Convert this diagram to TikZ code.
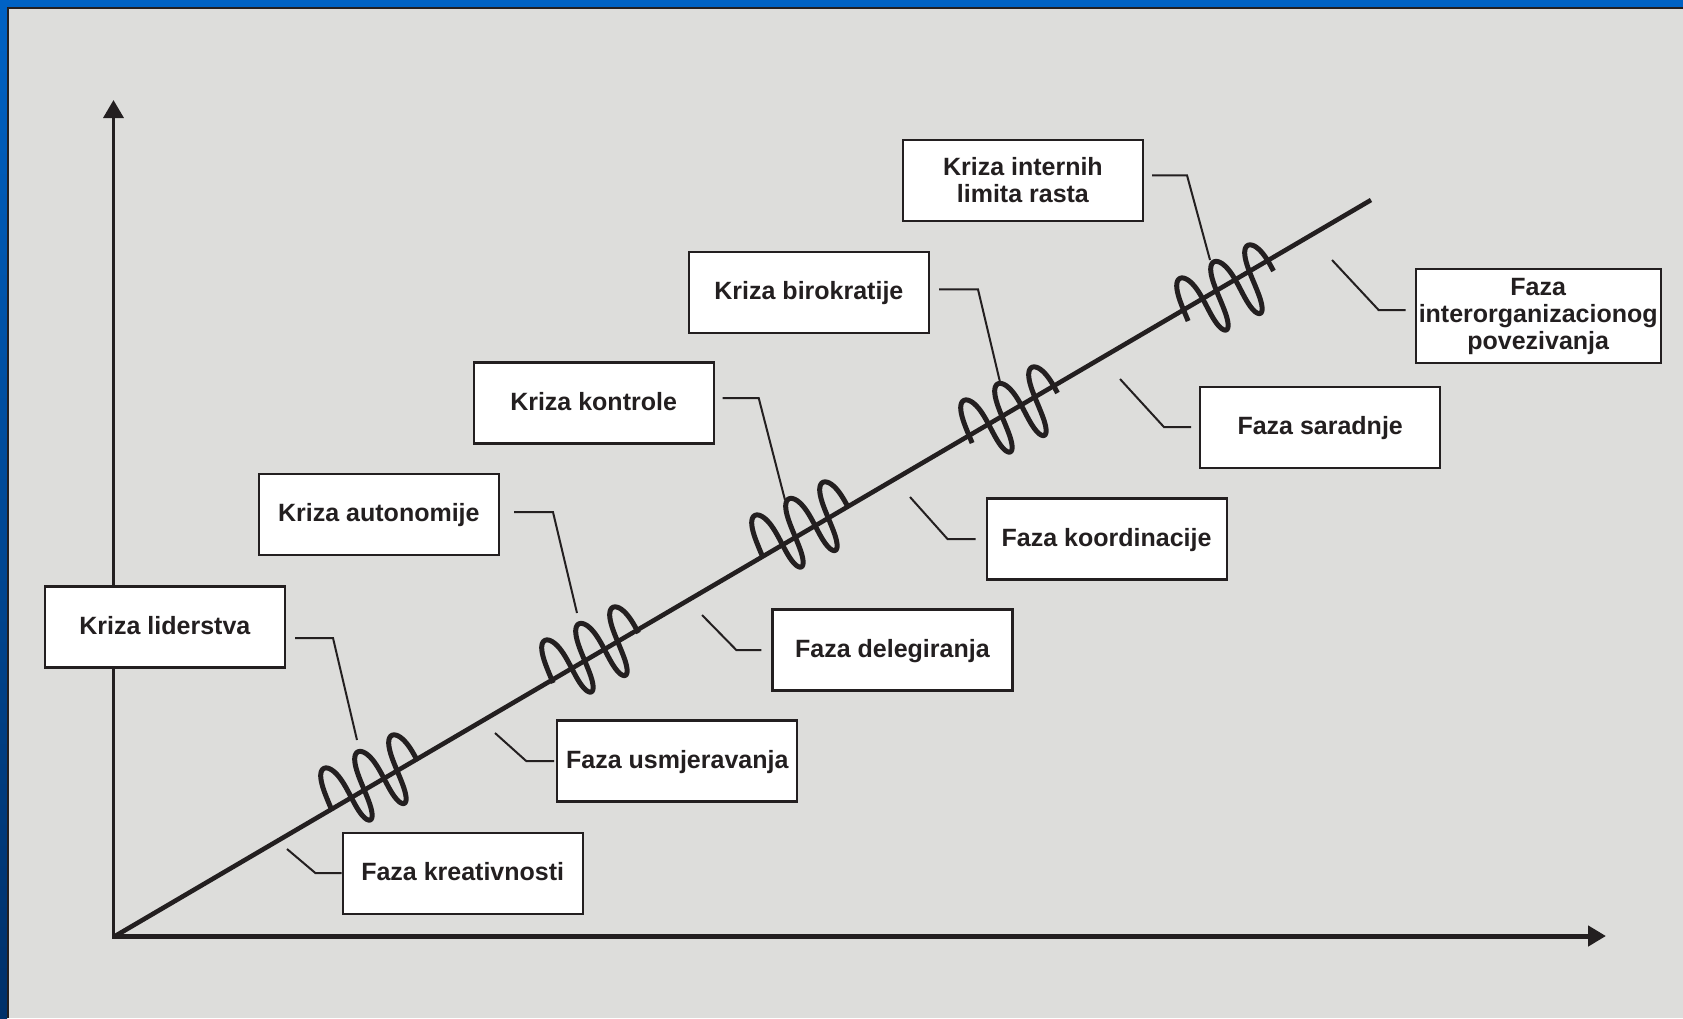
\documentclass[tikz,border=0pt]{standalone}
\usepackage{fontspec}
\setmainfont{Liberation Sans}
\usetikzlibrary{arrows.meta}
\definecolor{ink}{RGB}{35,31,32}
\definecolor{panel}{RGB}{221,221,219}
\definecolor{blueA}{RGB}{0,98,196}
\definecolor{blueB}{RGB}{0,48,105}
\newcommand\coilat[2]{\draw[coil] plot[domain=1.3:17.28,samples=220,smooth] ({#1+5.41*\x+14*cos(\x r)-2*sin(\x r)+2.5*sin(2*\x r)},{#2-1.6-2.63*\x+30.1*cos(\x r)});}
\begin{document}
\begin{tikzpicture}[x=1pt,y=-1pt,
  box/.style={draw=ink,line width=2.2pt,fill=white,align=center,inner sep=0pt,
    minimum width=240pt,minimum height=81pt,text=ink,
    font=\fontsize{25pt}{27pt}\selectfont\bfseries},
  one/.style={text height=16pt,text depth=2pt},
  leader/.style={draw=ink,line width=2pt},
  coil/.style={draw=ink,line width=5pt},
  axis/.style={draw=ink,-{Triangle[length=18pt,width=20pt]}}]
\useasboundingbox (0,0) rectangle (1683,1018);
% background frame
\fill[panel] (0,0) rectangle (1683,1018);
\fill[blueA] (0,0) rectangle (1683,6.5);
\shade[top color=blueA,bottom color=blueB] (0,0) rectangle (7,1018);
\draw[ink,line width=2pt] (8,1018) -- (8,7.5) -- (1683,7.5);
% axes
\coordinate (O) at (113.5,937);
\coordinate (ytip) at (113.5,100);
\coordinate (xtip) at (1606,936);
\coordinate (dend) at (1371,200);
\draw[axis,line width=3.5pt] (O) -- (ytip);
\draw[axis,line width=5pt] (112,936) -- (xtip);
\draw[ink,line width=4.6pt] (O) -- (dend);
% coils
\coilat{322}{808}
\coilat{543}{680}
\coilat{753}{555}
\coilat{962}{440}
\coilat{1178}{318}
% leader end points
\coordinate (k1e) at (357,740);
\coordinate (k2e) at (577,613);
\coordinate (k3e) at (785,500);
\coordinate (k4e) at (1000,382);
\coordinate (k5e) at (1210,260);
\coordinate (f1) at (287,849);
\coordinate (f2) at (495,733);
\coordinate (f3) at (702,615);
\coordinate (f4) at (910,497);
\coordinate (f5) at (1120,379);
\coordinate (f6) at (1332,260);
% boxes
\node[box,one] (kl) at (164.9,627) {Kriza liderstva};
\node[box,one] (ka) at (378.9,514.1) {Kriza autonomije};
\node[box,one] (kk) at (593.6,403) {Kriza kontrole};
\node[box,one] (kb) at (808.9,292.4) {Kriza birokratije};
\node[box] (ki) at (1022.9,180.3) {Kriza internih\\limita rasta};
\node[box,one] (fk) at (462.7,873.2) {Faza kreativnosti};
\node[box,one] (fu) at (677.3,761) {Faza usmjeravanja};
\node[box,one] (fd) at (892.4,650) {Faza delegiranja};
\node[box,one] (fko) at (1106.6,539) {Faza koordinacije};
\node[box,one] (fs) at (1320.2,427.2) {Faza saradnje};
\node[box,minimum width=245pt,minimum height=94pt] (fi) at (1538.2,316) {Faza\\interorganizacionog\\povezivanja};
% crisis leaders
\draw[leader] ([xshift=9pt,yshift=-11pt]kl.east) -- ++(38,0) -- (k1e);
\draw[leader] ([xshift=14pt,yshift=2pt]ka.east) -- ++(39,0) -- (k2e);
\draw[leader] ([xshift=8pt,yshift=5pt]kk.east) -- ++(36,0) -- (k3e);
\draw[leader] ([xshift=9pt,yshift=3pt]kb.east) -- ++(39,0) -- (k4e);
\draw[leader] ([xshift=8pt,yshift=5pt]ki.east) -- ++(35,0) -- (k5e);
% phase leaders
\draw[leader] (f1) -- ([xshift=-26pt]fk.west) -- (fk.west);
\draw[leader] (f2) -- ([xshift=-30pt]fu.west) -- ([xshift=-2pt]fu.west);
\draw[leader] (f3) -- ([xshift=-35pt]fd.west) -- ([xshift=-10pt]fd.west);
\draw[leader] (f4) -- ([xshift=-38pt]fko.west) -- ([xshift=-10pt]fko.west);
\draw[leader] (f5) -- ([xshift=-35pt]fs.west) -- ([xshift=-8pt]fs.west);
\draw[leader] (f6) -- ([xshift=-36pt,yshift=6pt]fi.west) -- ([xshift=-9pt,yshift=6pt]fi.west);
\end{tikzpicture}
\end{document}
